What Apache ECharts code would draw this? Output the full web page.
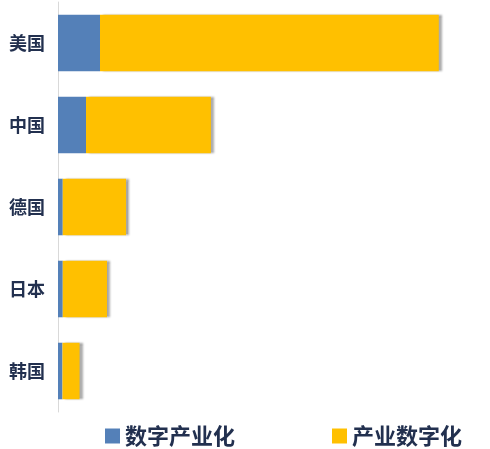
<!DOCTYPE html>
<html>
<head>
<meta charset="utf-8">
<script src="https://cdn.jsdelivr.net/npm/echarts@6/dist/echarts.min.js"></script>
<style>
  html, body { margin: 0; padding: 0; background: #fff; }
  #chart { width: 490px; height: 449px; }
</style>
</head>
<body>
<div id="chart"></div>
<script>
var countries = ['美国', '中国', '德国', '日本', '韩国'];
var digitalIndustry = [1.5, 1.0, 0.17, 0.17, 0.16];
var industryDigital = [12.1, 4.46, 2.26, 1.58, 0.61];

var myChart = echarts.init(document.getElementById('chart'));
var textColor = '#22304f';
var barShadow = {
    shadowColor: 'rgba(0,0,0,0.35)',
    shadowBlur: 2,
    shadowOffsetX: 3
};

var option = {
    animation: false,
    grid: { left: 58, top: 2, width: 420, height: 410 },
    legend: {
        top: 420,
        left: 100,
        itemWidth: 15,
        itemHeight: 15,
        itemGap: 97,
        icon: 'rect',
        selectedMode: false,
        textStyle: { color: textColor, fontSize: 22, fontWeight: 'bold', fontFamily: 'Noto Sans CJK SC', padding: [0, 0, 0, 0] },
        data: ['数字产业化', '产业数字化']
    },
    xAxis: {
        type: 'value',
        min: 0,
        max: 15,
        show: false
    },
    yAxis: {
        type: 'category',
        inverse: true,
        data: countries,
        axisLine: { lineStyle: { color: '#d9d9d9', width: 1 } },
        axisTick: { show: false },
        axisLabel: { color: textColor, fontSize: 18, fontWeight: 'bold', margin: 13, fontFamily: 'Noto Sans CJK SC' }
    },
    series: [{
        name: '数字产业化',
        type: 'bar',
        stack: 'total',
        barWidth: '69%',
        itemStyle: { color: '#5480b8' },
        data: digitalIndustry
    }, {
        name: '产业数字化',
        type: 'bar',
        stack: 'total',
        itemStyle: Object.assign({ color: '#ffc000' }, barShadow),
        data: industryDigital
    }]
};

myChart.setOption(option);
</script>
</body>
</html>
